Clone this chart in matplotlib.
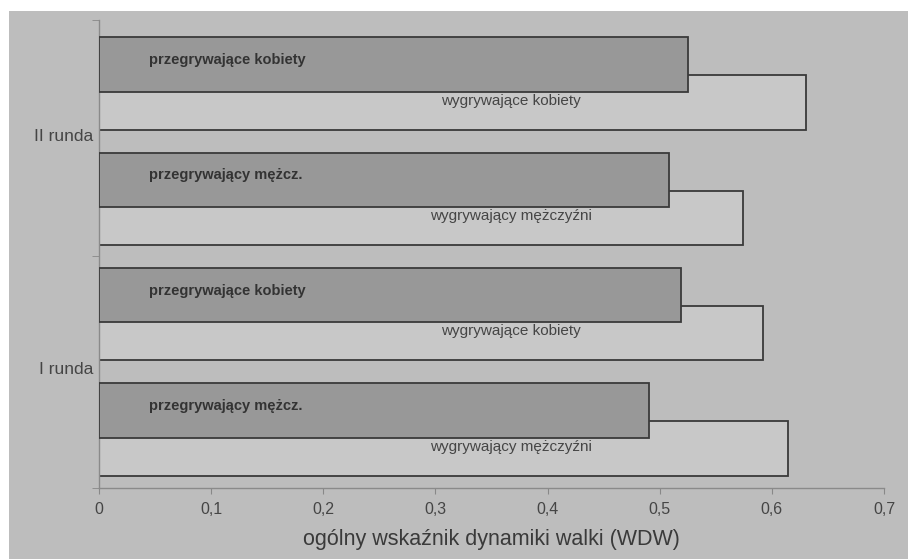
import numpy as np
import matplotlib
matplotlib.use("Agg")
from matplotlib import pyplot as plt
from matplotlib.patches import Rectangle

# WDW values, ordered bottom to top: I runda (men, women), II runda (men, women)
przegrywajacy = [0.490, 0.519, 0.508, 0.525]
wygrywajacy = [0.614, 0.592, 0.574, 0.630]
etykiety_przegr = ["przegrywający mężcz.", "przegrywające kobiety",
                   "przegrywający mężcz.", "przegrywające kobiety"]
etykiety_wygr = ["wygrywający mężczyźni", "wygrywające kobiety",
                 "wygrywający mężczyźni", "wygrywające kobiety"]
rundy = ["I runda", "II runda"]
xticks = [0, 0.1, 0.2, 0.3, 0.4, 0.5, 0.6, 0.7]

plt.rcParams['font.family'] = ['Liberation Sans Narrow', 'Liberation Sans', 'DejaVu Sans']

tlo = "#bdbdbd"
jasny = "#c8c8c8"
ciemny = "#989898"
obrys = "#3a3a3a"
tekst = "#454545"

fig = plt.figure(figsize=(9.08, 5.59), dpi=100)
fig.patch.set_facecolor("white")
# grey page background below the white margin strip
fig.patches.append(Rectangle((9 / 908, 0), 1, (559 - 11) / 559,
                             transform=fig.transFigure, facecolor=tlo,
                             edgecolor="none", zorder=-5))

ax = fig.add_axes([99 / 908, 1 - 488 / 559, (884 - 99) / 908, (488 - 20) / 559])
ax.set_facecolor("none")

y = np.arange(len(przegrywajacy))
h = 0.47
off = 0.165

ax.barh(y - off, wygrywajacy, height=h, color=jasny, edgecolor=obrys,
        linewidth=1.3, zorder=2)
ax.barh(y + off, przegrywajacy, height=h, color=ciemny, edgecolor=obrys,
        linewidth=1.3, zorder=3)

for i in range(len(y)):
    ax.text(0.045, y[i] + off + 0.04, etykiety_przegr[i], ha="left", va="center",
            fontsize=10.5, fontweight="bold", color="#333333", zorder=4)
    ax.text(0.367, y[i] - off + 0.015, etykiety_wygr[i], ha="center", va="center",
            fontsize=11, color=tekst, zorder=4)

ax.set_xlim(0, 0.7)
ax.set_ylim(-0.507, 3.55)

ax.set_xticks(xticks)
ax.set_xticklabels([("%g" % t).replace(".", ",") for t in xticks],
                   fontsize=11.5, color=tekst)
ax.set_yticks([0.53, 2.55])
ax.set_yticklabels(rundy, fontsize=12.5, color=tekst)
ax.set_yticks([-0.507, 1.5, 3.55], minor=True)
ax.tick_params(axis="y", which="major", length=0, pad=4)
ax.tick_params(axis="y", which="minor", length=5, color="#888888")
ax.tick_params(axis="x", length=4, color="#888888", pad=6)

ax.set_xlabel("ogólny wskaźnik dynamiki walki (WDW)", fontsize=15.5,
              color="#3a3a3a", labelpad=9)

for s in ["top", "right"]:
    ax.spines[s].set_visible(False)
for s in ["left", "bottom"]:
    ax.spines[s].set_color("#8a8a8a")
    ax.spines[s].set_linewidth(1.0)

plt.savefig("out.png", dpi=100, facecolor=fig.get_facecolor())
